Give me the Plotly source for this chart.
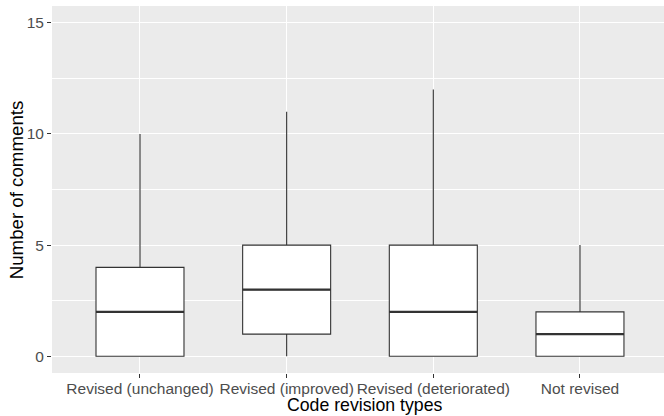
import plotly.graph_objects as go

categories = ["Revised (unchanged)", "Revised (improved)", "Revised (deteriorated)", "Not revised"]
lower_whisker = [0, 0, 0, 0]
q1_values = [0, 1, 0, 0]
medians = [2, 3, 2, 1]
q3_values = [4, 5, 5, 2]
upper_whisker = [10, 11, 12, 5]
y_ticks = [0, 5, 10, 15]
x_title = "Code revision types"
y_title = "Number of comments"

FONT = "Liberation Sans, Arial, Helvetica, sans-serif"
BOX_W = 0.6
positions = list(range(1, len(categories) + 1))

fig = go.Figure()
for i, cat in enumerate(categories):
    fig.add_trace(go.Box(
        x=[positions[i]], q1=[q1_values[i]], median=[medians[i]], q3=[q3_values[i]],
        lowerfence=[lower_whisker[i]], upperfence=[upper_whisker[i]],
        width=BOX_W, fillcolor="white", line=dict(color="#333333", width=1.1),
        whiskerwidth=0, boxpoints=False, name=cat, showlegend=False, hoverinfo="skip",
    ))

# thicker median lines (ggplot fatten)
mx, my = [], []
for i in range(len(categories)):
    mx += [positions[i] - BOX_W / 2, positions[i] + BOX_W / 2, None]
    my += [medians[i], medians[i], None]
fig.add_trace(go.Scatter(x=mx, y=my, mode="lines", line=dict(color="#333333", width=2.2),
                         showlegend=False, hoverinfo="skip"))

fig.update_layout(
    width=664, height=416,
    margin=dict(l=52, r=0, t=6, b=43),
    paper_bgcolor="white", plot_bgcolor="#EBEBEB",
    font=dict(family=FONT, color="#4D4D4D"),
    showlegend=False,
    annotations=[
        dict(text=x_title, xref="paper", yref="paper", x=0.511, y=-0.0885,
             xanchor="center", yanchor="middle", showarrow=False,
             font=dict(size=17.7, color="black", family=FONT)),
        dict(text=y_title, xref="paper", yref="paper", x=-0.0575, y=0.5,
             xanchor="center", yanchor="middle", showarrow=False, textangle=-90,
             font=dict(size=18.7, color="black", family=FONT)),
    ],
)
fig.update_xaxes(
    range=[0.4, 4.573], tickvals=positions, ticktext=categories,
    showgrid=True, gridcolor="white", gridwidth=1.1, zeroline=False,
    ticks="outside", ticklen=4, tickcolor="#333333", tickwidth=1,
    tickfont=dict(size=15.5, color="#4D4D4D", family=FONT),
    ticklabelstandoff=-3,
    showline=False, tickangle=0, automargin=False,
)
fig.update_yaxes(
    range=[-0.75, 15.75], tickvals=y_ticks, ticktext=[str(v) for v in y_ticks],
    showgrid=True, gridcolor="white", gridwidth=1.1, zeroline=False,
    minor=dict(tickvals=[2.5, 7.5, 12.5], showgrid=True, gridcolor="white", gridwidth=0.5, ticks=""),
    ticks="outside", ticklen=4, tickcolor="#333333", tickwidth=1,
    tickfont=dict(size=15.5, color="#4D4D4D", family=FONT),
    showline=False, automargin=False,
)

fig.write_html("out.html", config={"displayModeBar": False},
               post_script="document.body.style.margin='0';document.body.style.overflow='hidden';")
